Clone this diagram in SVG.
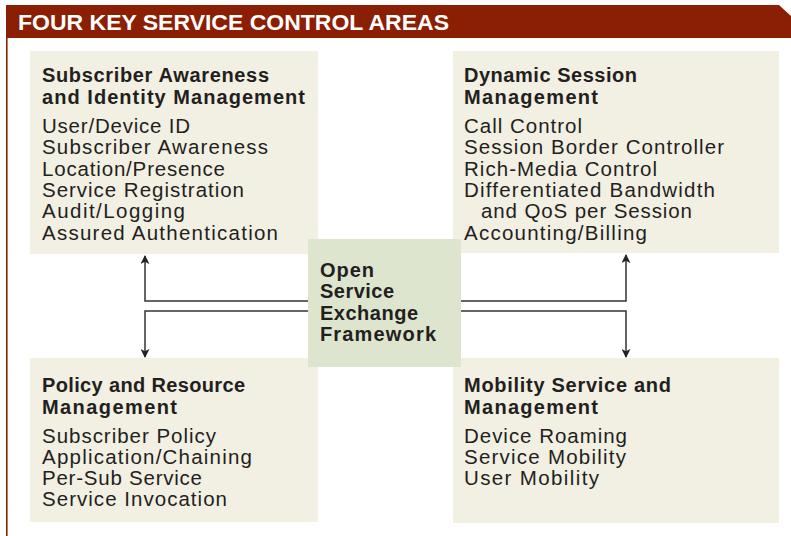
<svg xmlns="http://www.w3.org/2000/svg" width="791" height="536" viewBox="0 0 791 536">
  <style>
    .area { fill: #f2efe3; }
    .hub { fill: #dde5cf; }
    .title { font-family: "Liberation Sans", Arial, sans-serif; font-size: 20px; font-weight: bold; fill: #231f20; }
    .item { font-family: "Liberation Sans", Arial, sans-serif; font-size: 20.5px; fill: #231f20; }
    .link { fill: none; stroke: #333333; stroke-width: 1.5; }
    .banner-text { font-family: "Liberation Sans", Arial, sans-serif; font-size: 22px; font-weight: bold; fill: #ffffff; }
  </style>
  <defs>
    <marker id="arrow" viewBox="0 0 10 10" refX="9" refY="5" markerWidth="9" markerHeight="9" markerUnits="userSpaceOnUse" orient="auto">
      <path d="M0,0 L10,5 L0,10 L2.5,5 Z" fill="#222222"/>
    </marker>
  </defs>

  <rect width="791" height="536" fill="#ffffff"/>

  <!-- banner and frame -->
  <g id="banner">
    <polygon points="6,5 779,5 791,16 791,38 6,38" fill="#8b1f03"/>
    <line x1="6.8" y1="38" x2="6.8" y2="536" stroke="#8b1f03" stroke-width="1.6"/>
    <text class="banner-text" x="18" y="30" textLength="431" lengthAdjust="spacingAndGlyphs">FOUR KEY SERVICE CONTROL AREAS</text>
  </g>

  <!-- connectors -->
  <g id="connectors">
    <path class="link" d="M308,301 H145 V256" marker-end="url(#arrow)"/>
    <path class="link" d="M308,311 H145 V357" marker-end="url(#arrow)"/>
    <path class="link" d="M461,301 H626 V255" marker-end="url(#arrow)"/>
    <path class="link" d="M461,311 H626 V357" marker-end="url(#arrow)"/>
  </g>

  <g id="subscriber-awareness">
    <rect class="area" x="30" y="51" width="288" height="203"/>
    <text class="title" x="42" y="82" textLength="227">Subscriber Awareness</text>
    <text class="title" x="42" y="104" textLength="263">and Identity Management</text>
    <text class="item" x="42" y="133" textLength="148">User/Device ID</text>
    <text class="item" x="42" y="154" textLength="226">Subscriber Awareness</text>
    <text class="item" x="42" y="176" textLength="183">Location/Presence</text>
    <text class="item" x="42" y="197" textLength="202">Service Registration</text>
    <text class="item" x="42" y="218" textLength="143">Audit/Logging</text>
    <text class="item" x="42" y="240" textLength="236">Assured Authentication</text>
  </g>

  <g id="dynamic-session">
    <rect class="area" x="453" y="51" width="326" height="202"/>
    <text class="title" x="464" y="82" textLength="173">Dynamic Session</text>
    <text class="title" x="464" y="104" textLength="134">Management</text>
    <text class="item" x="464" y="133" textLength="118">Call Control</text>
    <text class="item" x="464" y="154" textLength="260">Session Border Controller</text>
    <text class="item" x="464" y="176" textLength="193">Rich-Media Control</text>
    <text class="item" x="464" y="197" textLength="251">Differentiated Bandwidth</text>
    <text class="item" x="481" y="218" textLength="211">and QoS per Session</text>
    <text class="item" x="464" y="240" textLength="183">Accounting/Billing</text>
  </g>

  <g id="policy-resource">
    <rect class="area" x="30" y="358" width="288" height="164"/>
    <text class="title" x="42" y="392" textLength="203">Policy and Resource</text>
    <text class="title" x="42" y="414" textLength="135">Management</text>
    <text class="item" x="42" y="443" textLength="174">Subscriber Policy</text>
    <text class="item" x="42" y="464" textLength="210">Application/Chaining</text>
    <text class="item" x="42" y="485" textLength="160">Per-Sub Service</text>
    <text class="item" x="42" y="506" textLength="185">Service Invocation</text>
  </g>

  <g id="mobility">
    <rect class="area" x="453" y="358" width="326" height="165"/>
    <text class="title" x="464" y="392" textLength="207">Mobility Service and</text>
    <text class="title" x="464" y="414" textLength="134">Management</text>
    <text class="item" x="464" y="443" textLength="163">Device Roaming</text>
    <text class="item" x="464" y="464" textLength="162">Service Mobility</text>
    <text class="item" x="464" y="485" textLength="135">User Mobility</text>
  </g>

  <g id="open-service-exchange">
    <rect class="hub" x="308" y="239" width="153" height="128"/>
    <text class="title" x="320" y="277" textLength="54">Open</text>
    <text class="title" x="320" y="298" textLength="74">Service</text>
    <text class="title" x="320" y="320" textLength="98">Exchange</text>
    <text class="title" x="320" y="341" textLength="116">Framework</text>
  </g>
</svg>
